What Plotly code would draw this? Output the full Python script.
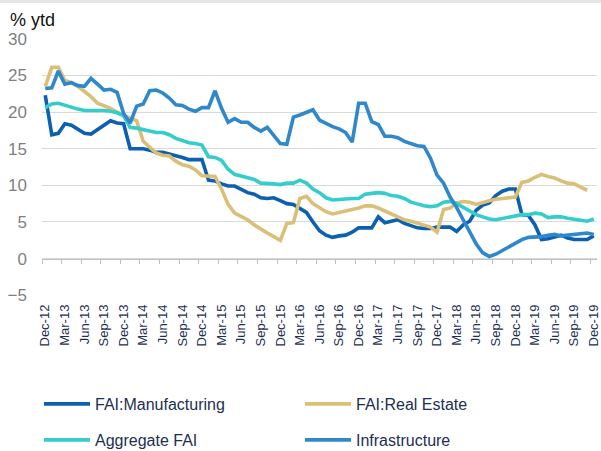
import pandas as pd
import plotly.graph_objects as go

months = [d.strftime("%b-%y") for d in pd.date_range("2012-12-01", periods=85, freq="MS")]
tick_labels = months[::3]

manufacturing = [22.3, 16.9, 17.1, 18.4, 18.2, 17.7, 17.1, 17.0, 17.6, 18.3, 18.8, 18.5, 18.4,
                 15.0, 15.0, 15.0, 14.8, 14.5, 14.5, 14.3, 14.0, 13.8, 13.5, 13.5, 13.5,
                 10.7, 10.6, 10.2, 9.9, 9.9, 9.4, 9.0, 8.8, 8.3, 8.2, 8.3, 7.9,
                 7.5, 7.4, 6.9, 6.3, 5.0, 3.8, 3.2, 2.9, 3.1, 3.2, 3.6, 4.2,
                 4.2, 4.2, 5.7, 4.9, 5.1, 5.3, 4.8, 4.5, 4.2, 4.1, 4.1, 4.3,
                 4.3, 4.3, 3.7, 4.6, 5.1, 6.6, 7.3, 7.6, 8.6, 9.2, 9.5, 9.5,
                 6.0, 5.9, 4.6, 2.6, 2.7, 2.9, 3.2, 2.8, 2.6, 2.6, 2.6, 3.1]

real_estate = [23.5, 26.1, 26.1, 24.3, 24.0, 23.5, 22.8, 22.1, 21.2, 20.9, 20.5, 20.0, 19.5,
               19.2, 18.8, 16.0, 15.2, 14.4, 14.1, 14.0, 13.3, 12.8, 12.6, 12.1, 11.3,
               11.3, 11.2, 9.5, 7.4, 6.2, 5.8, 5.3, 4.6, 4.0, 3.5, 3.0, 2.5,
               4.8, 4.9, 8.2, 8.5, 7.5, 6.9, 6.4, 6.1, 6.3, 6.5, 6.6, 6.9,
               7.2, 7.2, 6.9, 6.5, 6.1, 5.6, 5.3, 5.1, 4.8, 4.6, 4.3, 3.6,
               6.7, 6.9, 7.6, 7.8, 7.7, 7.4, 7.7, 7.9, 8.1, 8.2, 8.3, 8.4,
               10.4, 10.6, 11.1, 11.5, 11.2, 11.0, 10.6, 10.3, 10.2, 9.8, 9.3, None]

aggregate = [20.6, 21.1, 21.2, 20.9, 20.6, 20.4, 20.2, 20.2, 20.3, 20.2, 20.1, 19.9, 19.5,
             17.9, 17.8, 17.6, 17.3, 17.2, 17.2, 16.9, 16.4, 16.1, 15.8, 15.7, 15.5,
             13.9, 13.8, 13.4, 12.2, 11.5, 11.3, 11.1, 10.8, 10.3, 10.3, 10.2, 10.1,
             10.3, 10.3, 10.7, 10.3, 9.5, 9.0, 8.3, 8.0, 8.1, 8.2, 8.2, 8.2,
             8.8, 8.9, 9.0, 8.9, 8.6, 8.5, 8.2, 7.7, 7.4, 7.2, 7.1, 7.2,
             7.7, 7.8, 7.5, 7.0, 6.4, 6.0, 5.7, 5.4, 5.3, 5.5, 5.7, 5.8,
             6.0, 6.0, 6.2, 6.1, 5.6, 5.7, 5.7, 5.5, 5.4, 5.2, 5.1, 5.4]

infrastructure = [23.2, 23.3, 25.6, 23.8, 24.0, 23.6, 23.5, 24.6, 23.8, 23.0, 23.1, 22.7, 19.8,
                  18.5, 20.8, 21.1, 22.9, 23.0, 22.6, 21.9, 21.0, 20.9, 20.4, 20.1, 20.6,
                  20.6, 22.9, 20.5, 18.6, 19.1, 18.6, 18.6, 17.9, 17.4, 17.9, 16.8, 15.7,
                  15.6, 19.3, 19.6, 19.9, 20.3, 18.9, 18.4, 18.0, 17.7, 17.2, 15.9, 21.2,
                  21.2, 18.7, 18.3, 16.7, 16.7, 16.5, 16.0, 15.7, 15.4, 15.3, 13.7, 11.4,
                  10.3, 8.4, 7.0, 5.3, 3.6, 2.0, 0.8, 0.3, 0.6, 1.1, 1.6, 2.1,
                  2.6, 2.9, 2.9, 3.0, 3.2, 3.3, 3.1, 3.2, 3.3, 3.4, 3.5, 3.3]

series_names = ["FAI:Manufacturing", "FAI:Real Estate", "Aggregate FAI", "Infrastructure"]
series_values = [manufacturing, real_estate, aggregate, infrastructure]
series_colors = ["#0d5fb0", "#d9bf78", "#35cccc", "#2e88cb"]
series_legends = ["legend", "legend", "legend2", "legend2"]

y_ticks = [-5, 0, 5, 10, 15, 20, 25, 30]

fig = go.Figure()
for name, vals, col, lg in zip(series_names, series_values, series_colors, series_legends):
    fig.add_trace(go.Scatter(x=months, y=vals, name=name, mode="lines",
                             line=dict(color=col, width=3.6), legend=lg,
                             connectgaps=False))

# helper trace so the zero-line axis (xaxis2) is rendered
fig.add_trace(go.Scatter(x=[months[0]], y=[None], xaxis="x2", yaxis="y",
                         showlegend=False, hoverinfo="skip", mode="lines"))

ymin, ymax = -5.1, 30.1
zero_pos = (0 - ymin) / (ymax - ymin)
n = len(months)

ML, MT, PW, PH = 42, 38, 555, 258

def px_x(p):
    return (p - ML) / PW

def px_y(p):
    return (MT + PH - p) / PH

label_font = dict(family="Liberation Sans, Arial", size=13, color="#1d2f52")
legend_font = dict(family="Liberation Sans, Arial", size=16, color="#1d2f52")

fig.update_layout(
    width=601, height=451,
    margin=dict(l=ML, r=601 - ML - PW, t=MT, b=451 - MT - PH, autoexpand=False),
    plot_bgcolor="white", paper_bgcolor="white",
    font=dict(family="Liberation Sans, Arial", color="#1d2f52"),
    xaxis=dict(type="category", categoryorder="array", categoryarray=months,
               range=[-0.5, n - 0.5], tickmode="array", tickvals=tick_labels, ticktext=tick_labels,
               tickangle=-90, ticks="", showline=False, showgrid=False, zeroline=False,
               tickfont=label_font, ticklabelstandoff=5, automargin=False),
    xaxis2=dict(type="category", categoryorder="array", categoryarray=months,
                overlaying="x", anchor="free", position=zero_pos, matches="x",
                tickmode="array", tickvals=[i - 0.5 for i in range(0, n + 1, 3)],
                ticks="outside", ticklen=4, tickcolor="#bfbfbf", tickwidth=1,
                showticklabels=False, showline=True, linecolor="#bfbfbf", linewidth=1,
                showgrid=False, zeroline=False, automargin=False),
    yaxis=dict(range=[ymin, ymax], tickmode="array", tickvals=y_ticks,
               showgrid=True, gridcolor="#d9d9d9", gridwidth=1, zeroline=False,
               showline=False, ticks="", automargin=False,
               tickfont=dict(family="Liberation Sans, Arial", size=17, color="#7f7f7f"),
               ticklabelstandoff=14),
    legend=dict(orientation="h", x=px_x(39), xanchor="left", y=px_y(404), yanchor="middle",
                entrywidth=200, entrywidthmode="pixels", bgcolor="rgba(0,0,0,0)",
                itemwidth=46, font=legend_font),
    legend2=dict(orientation="h", x=px_x(39), xanchor="left", y=px_y(440), yanchor="middle",
                 entrywidth=200, entrywidthmode="pixels", bgcolor="rgba(0,0,0,0)",
                 itemwidth=46, font=legend_font),
    annotations=[dict(text="% ytd", xref="paper", yref="paper", x=px_x(8), y=px_y(20),
                      xanchor="left", yanchor="middle", showarrow=False,
                      font=dict(family="Liberation Sans, Arial", size=18, color="#111111"))],
    shapes=[dict(type="rect", xref="paper", yref="paper", x0=px_x(0), x1=px_x(601),
                 y0=px_y(3), y1=px_y(0), fillcolor="#e6e6e6", line=dict(width=0), layer="below")],
)

fig.write_html("out.html", config={"displayModeBar": False},
               post_script="document.body.style.margin='0';document.body.style.padding='0';")
